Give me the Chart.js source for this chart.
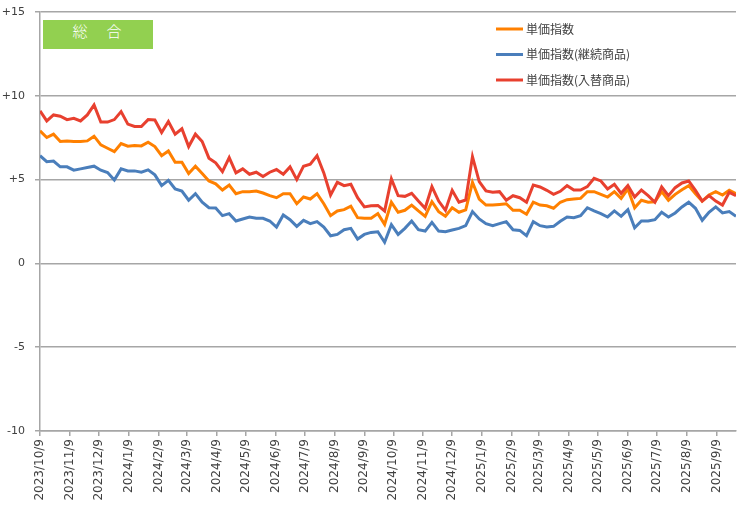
<!DOCTYPE html>
<html>
<head>
<meta charset="utf-8">
<script src="https://cdn.jsdelivr.net/npm/chart.js@4.4.1/dist/chart.umd.min.js"></script>
<style>
  body { margin: 0; background: #fff; }
  #wrap { position: relative; width: 742px; height: 510px; }
  #title {
    position: absolute; left: 43px; top: 20px; width: 110px; height: 29px;
    background: #92d050; color: #fff; text-align: center; line-height: 29px;
    font: 300 15px "Noto Sans CJK JP", sans-serif; letter-spacing: 2px;
  }
</style>
</head>
<body>
<div id="wrap">
  <canvas id="chart" width="742" height="510"></canvas>
  <div id="title">総　合</div>
</div>
<script>
// weekly series, first week = 2023/10/9
const firstWeek = '2023/10/9';

const tickLabels = ['2023/10/9', '2023/11/9', '2023/12/9', '2024/1/9', '2024/2/9', '2024/3/9',
  '2024/4/9', '2024/5/9', '2024/6/9', '2024/7/9', '2024/8/9', '2024/9/9', '2024/10/9',
  '2024/11/9', '2024/12/9', '2025/1/9', '2025/2/9', '2025/3/9', '2025/4/9', '2025/5/9',
  '2025/6/9', '2025/7/9', '2025/8/9', '2025/9/9'];

const yTicks = [-10, -5, 0, 5, 10, 15];

const seriesNames = ['単価指数', '単価指数(継続商品)', '単価指数(入替商品)'];

const unitIndex = [
  7.91, 7.51, 7.71, 7.27, 7.31, 7.27, 7.27, 7.31, 7.59, 7.07, 6.87, 6.67, 7.15, 6.99, 7.03, 7.01,
  7.23, 6.97, 6.43, 6.71, 6.04, 6.04, 5.36, 5.80, 5.36, 4.92, 4.75, 4.38, 4.68, 4.16, 4.28, 4.28,
  4.32, 4.20, 4.04, 3.92, 4.16, 4.16, 3.56, 3.96, 3.84, 4.16, 3.56, 2.85, 3.13, 3.21, 3.41, 2.73,
  2.69, 2.69, 2.97, 2.33, 3.65, 3.05, 3.17, 3.48, 3.13, 2.81, 3.68, 3.09, 2.81, 3.32, 3.05, 3.19,
  4.84, 3.84, 3.48, 3.48, 3.52, 3.56, 3.17, 3.17, 2.93, 3.65, 3.48, 3.44, 3.29, 3.65, 3.80, 3.84,
  3.88, 4.28, 4.28, 4.12, 3.96, 4.28, 3.88, 4.44, 3.32, 3.77, 3.65, 3.68, 4.28, 3.77, 4.12, 4.40,
  4.64, 4.16, 3.72, 4.08, 4.28, 4.08, 4.36, 4.16
];

const continuing = [
  6.43, 6.07, 6.11, 5.76, 5.76, 5.56, 5.64, 5.72, 5.80, 5.56, 5.42, 4.98, 5.64, 5.52, 5.52, 5.44,
  5.58, 5.28, 4.64, 4.96, 4.44, 4.32, 3.77, 4.16, 3.65, 3.32, 3.30, 2.85, 2.97, 2.53, 2.65, 2.77,
  2.69, 2.69, 2.53, 2.17, 2.89, 2.61, 2.21, 2.57, 2.37, 2.49, 2.17, 1.65, 1.73, 2.01, 2.09, 1.45,
  1.73, 1.85, 1.89, 1.26, 2.31, 1.73, 2.09, 2.53, 2.01, 1.93, 2.45, 1.93, 1.89, 1.99, 2.09, 2.25,
  3.09, 2.65, 2.37, 2.25, 2.37, 2.49, 2.01, 1.97, 1.65, 2.49, 2.25, 2.17, 2.21, 2.51, 2.77, 2.73,
  2.85, 3.32, 3.13, 2.97, 2.77, 3.13, 2.81, 3.21, 2.13, 2.53, 2.53, 2.61, 3.05, 2.77, 3.01, 3.37,
  3.65, 3.29, 2.57, 3.05, 3.37, 3.01, 3.09, 2.81
];

const replaced = [
  9.10, 8.50, 8.86, 8.78, 8.58, 8.66, 8.50, 8.86, 9.46, 8.43, 8.43, 8.58, 9.06, 8.31, 8.17, 8.17,
  8.58, 8.56, 7.81, 8.47, 7.71, 8.03, 6.97, 7.71, 7.27, 6.28, 6.00, 5.48, 6.31, 5.40, 5.64, 5.32,
  5.44, 5.18, 5.44, 5.60, 5.32, 5.76, 5.00, 5.80, 5.92, 6.43, 5.40, 4.08, 4.84, 4.64, 4.72, 3.92,
  3.37, 3.44, 3.46, 3.13, 5.04, 4.04, 4.00, 4.18, 3.72, 3.29, 4.58, 3.72, 3.17, 4.36, 3.65, 3.78,
  6.37, 4.88, 4.32, 4.24, 4.28, 3.77, 4.04, 3.92, 3.65, 4.68, 4.56, 4.36, 4.12, 4.30, 4.64, 4.38,
  4.38, 4.58, 5.08, 4.92, 4.44, 4.72, 4.18, 4.64, 3.96, 4.38, 4.04, 3.65, 4.56, 4.04, 4.52, 4.80,
  4.92, 4.36, 3.72, 4.04, 3.72, 3.48, 4.24, 4.04
];

function dayNum(s) {
  const [y, m, d] = s.split('/').map(Number);
  return Date.UTC(y, m - 1, d) / 86400000;
}
const day0 = dayNum(firstWeek);
const tickDays = tickLabels.map(s => dayNum(s) - day0);
const toPoints = arr => arr.map((v, i) => ({ x: i * 7, y: v }));
const lastDay = (unitIndex.length - 1) * 7;

const gridGray = '#a6a6a6';
const textGray = '#404040';

const legendPlugin = {
  id: 'insideLegend',
  afterDraw(chart) {
    const ctx = chart.ctx;
    chart.data.datasets.forEach((ds, i) => {
      const y = 29 + i * 25.5;
      ctx.save();
      ctx.strokeStyle = ds.borderColor;
      ctx.lineWidth = 3;
      ctx.beginPath();
      ctx.moveTo(496, y);
      ctx.lineTo(523, y);
      ctx.stroke();
      ctx.fillStyle = textGray;
      ctx.font = '12px "Noto Sans CJK JP"';
      ctx.textBaseline = 'middle';
      ctx.fillText(ds.label, 526, y);
      ctx.restore();
    });
  }
};

const ctx = document.getElementById('chart').getContext('2d');
const chart = new Chart(ctx, {
  type: 'line',
  data: {
    datasets: [
      { label: seriesNames[0], data: toPoints(unitIndex), borderColor: '#ff8000', order: 2 },
      { label: seriesNames[1], data: toPoints(continuing), borderColor: '#4a7ebb', order: 1 },
      { label: seriesNames[2], data: toPoints(replaced), borderColor: '#e8402f', order: 0 }
    ]
  },
  options: {
    responsive: false,
    animation: false,
    devicePixelRatio: 1,
    layout: { padding: { top: 12, right: 6, left: 0, bottom: 0 } },
    elements: {
      line: { borderWidth: 3, tension: 0 },
      point: { radius: 0 }
    },
    plugins: { legend: { display: false }, tooltip: { enabled: false } },
    scales: {
      x: {
        type: 'linear',
        min: 0,
        max: lastDay,
        afterBuildTicks: axis => { axis.ticks = tickDays.map(v => ({ value: v })); },
        afterFit: axis => { axis.height = 79; },
        ticks: {
          autoSkip: false,
          maxRotation: 90,
          minRotation: 90,
          padding: 3,
          color: textGray,
          font: { family: 'DejaVu Sans', size: 12 },
          callback: (v, i) => tickLabels[i]
        },
        grid: { drawOnChartArea: false, tickLength: 5, color: gridGray, lineWidth: 1.5 },
        border: { display: true, color: gridGray, width: 1.5 }
      },
      y: {
        min: -10,
        max: 15,
        afterBuildTicks: axis => { axis.ticks = yTicks.map(v => ({ value: v })); },
        afterFit: axis => {
          axis.width = 40;
          axis.paddingTop = 0;
          axis.paddingBottom = 0;
        },
        ticks: {
          padding: 10,
          color: textGray,
          font: { family: 'DejaVu Sans', size: 11 },
          callback: v => (v > 0 ? '+' + v : '' + v)
        },
        grid: { color: gridGray, lineWidth: 1.5, tickLength: 5 },
        border: { display: true, color: gridGray, width: 1.5 }
      }
    }
  },
  plugins: [legendPlugin]
});
</script>
</body>
</html>
